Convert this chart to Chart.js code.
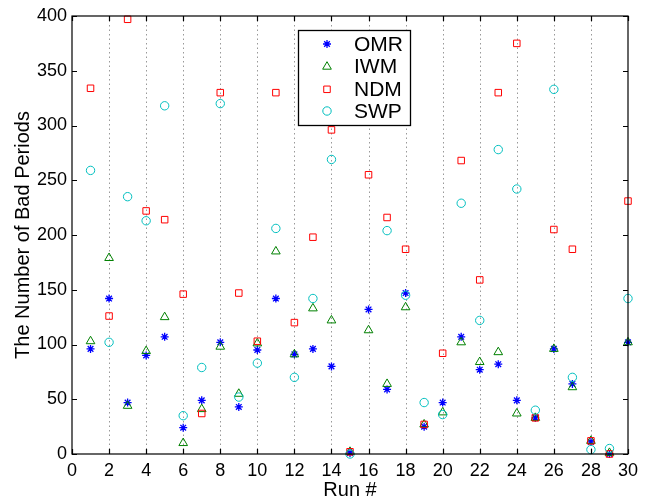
<!DOCTYPE html>
<html><head><meta charset="utf-8">
<script src="https://cdn.jsdelivr.net/npm/chart.js@4/dist/chart.umd.min.js"></script>
<style>html,body{margin:0;padding:0;background:#fff}#wrap{width:654px;height:500px}</style>
</head><body><div id="wrap"><canvas id="c" width="654" height="500"></canvas></div>
<script>
const runs = [1,2,3,4,5,6,7,8,9,10,11,12,13,14,15,16,17,18,19,20,21,22,23,24,25,26,27,28,29,30];
const omr = [96,142,47,90,107,24,49,102,43,95,142,91,96,80,1,132,59,147,25,47,107,77,82,49,33,96,64,11,0,102];
const iwm = [103,179,44,94,125,10,41,98,55,101,185,91,133,122,2,113,64,134,27,38,102,84,93,37,33,96,61,12,1,102];
const ndm = [334,126,397,222,214,146,37,330,147,103,330,120,198,296,2,255,216,187,27,92,268,159,330,375,33,205,187,12,0,231];
const swp = [259,102,235,213,318,35,79,320,52,83,206,70,142,269,0,null,204,145,47,36,229,122,278,242,40,333,70,4,5,142];
const xTicks = [0,2,4,6,8,10,12,14,16,18,20,22,24,26,28,30];
const yTicks = [0,50,100,150,200,250,300,350,400];

const FONT = "'Liberation Sans', Arial, Helvetica, sans-serif";
function pts(vals){ return runs.map((r,i)=>({x:r,y:vals[i]})); }

const sets = [
  {label:'OMR', data:pts(omr), pointStyle:'star', borderColor:'#0000ff', backgroundColor:'transparent', pointRadius:4, pointBorderWidth:1.3, order:4},
  {label:'IWM', data:pts(iwm), pointStyle:'triangle', borderColor:'#008000', backgroundColor:'transparent', pointRadius:5, pointBorderWidth:1, order:3},
  {label:'NDM', data:pts(ndm), pointStyle:'rect', borderColor:'#ff0000', backgroundColor:'transparent', pointRadius:4.6, pointBorderWidth:1, order:2},
  {label:'SWP', data:pts(swp), pointStyle:'circle', borderColor:'#00bfbf', backgroundColor:'transparent', pointRadius:4.2, pointBorderWidth:1, order:1}
].map(d=>Object.assign({showLine:false, clip:false, pointHoverRadius:d.pointRadius}, d));

const framePlugin = {
  id:'frame',
  beforeDatasetsDraw(chart){
    const {ctx, chartArea:a, scales:{x,y}} = chart;
    ctx.save();
    ctx.strokeStyle = '#999'; ctx.lineWidth = 1; ctx.setLineDash([1.5,3]);
    xTicks.forEach(t=>{ if(t===0||t===30) return; const px=Math.round(x.getPixelForValue(t))+0.5;
      ctx.beginPath(); ctx.moveTo(px,a.bottom); ctx.lineTo(px,a.top); ctx.stroke(); });
    ctx.restore();
  },
  afterDatasetsDraw(chart){
    const {ctx, chartArea:a, scales:{x,y}} = chart;
    ctx.save();
    ctx.strokeStyle = '#000'; ctx.lineWidth = 1.2; ctx.setLineDash([]);
    ctx.strokeRect(a.left, a.top, a.right-a.left, a.bottom-a.top);
    const L = 5;
    ctx.beginPath();
    xTicks.forEach(t=>{ const px=Math.round(x.getPixelForValue(t))+0.5;
      ctx.moveTo(px,a.bottom); ctx.lineTo(px,a.bottom-L); ctx.moveTo(px,a.top); ctx.lineTo(px,a.top+L); });
    yTicks.forEach(t=>{ const py=Math.round(y.getPixelForValue(t))+0.5;
      ctx.moveTo(a.left,py); ctx.lineTo(a.left+L,py); ctx.moveTo(a.right,py); ctx.lineTo(a.right-L,py); });
    ctx.stroke();
    // legend
    const bx=298.5, by=30.5, bw=112, bh=95;
    ctx.fillStyle='#fff'; ctx.fillRect(bx,by,bw,bh);
    ctx.lineWidth=1.3; ctx.strokeStyle='#000'; ctx.strokeRect(bx,by,bw,bh);
    const rows=[44,66.7,89.3,111];
    ctx.font = "21px " + FONT; ctx.textBaseline='middle'; ctx.textAlign='left';
    sets.forEach((d,i)=>{
      const opts = {pointStyle:d.pointStyle, radius:d.pointRadius, borderWidth:d.pointBorderWidth, rotation:0};
      ctx.strokeStyle=d.borderColor; ctx.fillStyle='transparent'; ctx.lineWidth=d.pointBorderWidth;
      if (Chart.helpers && Chart.helpers.drawPoint) Chart.helpers.drawPoint(ctx, opts, 327, rows[i]);
      ctx.fillStyle='#000';
      ctx.fillText(d.label, 354, rows[i]+1);
    });
    ctx.restore();
  }
};

new Chart(document.getElementById('c'), {
  type:'scatter',
  data:{datasets:sets},
  options:{
    responsive:false, animation:false, devicePixelRatio:1,
    layout:{padding:{top:16, right:26, left:11, bottom:0}},
    plugins:{legend:{display:false}, tooltip:{enabled:false}},
    scales:{
      x:{type:'linear', min:0, max:30,
        afterBuildTicks(s){ s.ticks = xTicks.map(v=>({value:v})); },
        afterFit(s){ s.height = 46; },
        grid:{display:false, drawTicks:false}, border:{display:false},
        ticks:{color:'#000', font:{family:FONT, size:18}, padding:6, maxRotation:0, autoSkip:false},
        title:{display:true, text:'Run #', color:'#000', font:{family:FONT, size:20}, padding:{top:0,bottom:-2}}
      },
      y:{type:'linear', min:0, max:400,
        afterBuildTicks(s){ s.ticks = yTicks.map(v=>({value:v})); },
        afterFit(s){ s.width = 61; },
        grid:{display:false, drawTicks:false}, border:{display:false},
        ticks:{color:'#000', font:{family:FONT, size:18}, padding:5, autoSkip:false},
        title:{display:true, text:'The Number of Bad Periods', color:'#000', font:{family:FONT, size:20}, padding:{top:0,bottom:0}}
      }
    }
  },
  plugins:[framePlugin]
});
</script></body></html>
